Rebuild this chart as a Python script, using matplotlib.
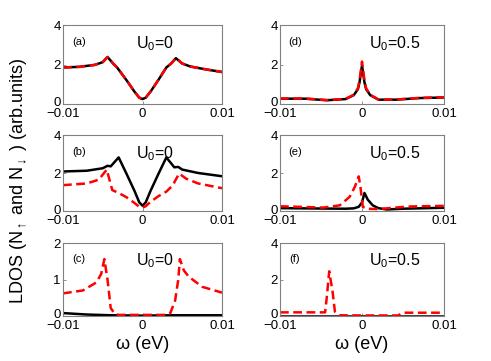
import matplotlib

matplotlib.use("Agg")
import matplotlib.pyplot as plt
from matplotlib.transforms import ScaledTranslation

plt.rcParams["font.family"] = ["Liberation Sans", "DejaVu Sans"]
plt.rcParams["mathtext.fontset"] = "custom"
plt.rcParams["mathtext.rm"] = "Liberation Sans"
plt.rcParams["mathtext.it"] = "Liberation Sans"
plt.rcParams["axes.unicode_minus"] = True

# panel (a): U0=0, spin up and spin down coincide
xa = [-0.01, -0.008, -0.006, -0.005, -0.0044, -0.0037, -0.0032, -0.002, -0.001,
      -0.0004, 0, 0.0004, 0.001, 0.002, 0.003, 0.0036, 0.0042, 0.005, 0.006, 0.008, 0.01]
ya_up = [1.85, 1.88, 1.98, 2.12, 2.38, 2.05, 1.85, 1.20, 0.62,
         0.32, 0.25, 0.32, 0.62, 1.22, 1.85, 2.05, 2.32, 2.05, 1.90, 1.75, 1.62]
ya_dn = ya_up

# panel (b)
xb_up = [-0.01, -0.007, -0.005, -0.0044, -0.004, -0.003, -0.002, -0.001, -0.0004, 0,
         0.0004, 0.001, 0.002, 0.003, 0.004, 0.0045, 0.005, 0.007, 0.01]
yb_up = [2.08, 2.12, 2.25, 2.38, 2.35, 2.82, 1.95, 1.05, 0.45, 0.28,
         0.45, 1.05, 1.95, 2.82, 2.30, 2.32, 2.18, 2.00, 1.83]
xb_dn = [-0.01, -0.007, -0.0055, -0.0045, -0.0038, -0.003, -0.002, -0.001, -0.0004, 0,
         0.0004, 0.001, 0.002, 0.003, 0.0038, 0.0046, 0.0055, 0.007, 0.01]
yb_dn = [1.36, 1.45, 1.65, 2.18, 1.10, 0.95, 0.72, 0.42, 0.22, 0.18,
         0.25, 0.48, 0.78, 1.02, 1.35, 1.97, 1.70, 1.45, 1.20]

# panel (c)
xc_up = [-0.01, -0.007, -0.004, 0, 0.004, 0.007, 0.01]
yc_up = [0.08, 0.04, 0.02, 0.01, 0.02, 0.02, 0.02]
xc_dn = [-0.01, -0.0075, -0.0058, -0.0052, -0.0048, -0.0044, -0.004, -0.0035, -0.003, 0,
         0.003, 0.0035, 0.0041, 0.0045, 0.0047, 0.0052, 0.0058, 0.0075, 0.01]
yc_dn = [0.62, 0.70, 0.92, 1.15, 1.56, 1.00, 0.22, 0.06, 0.03, 0.03,
         0.03, 0.08, 0.42, 1.00, 1.56, 1.25, 1.08, 0.80, 0.64]

# panel (d): U0=0.5
xd = [-0.01, -0.007, -0.0043, -0.002, -0.001, -0.0005, -0.0003, 0,
      0.0003, 0.0005, 0.001, 0.002, 0.0042, 0.007, 0.01]
yd_up = [0.27, 0.27, 0.19, 0.25, 0.45, 0.75, 1.10, 1.95,
         1.10, 0.75, 0.45, 0.22, 0.22, 0.30, 0.33]
yd_dn = [0.28, 0.28, 0.20, 0.26, 0.47, 0.80, 1.20, 2.15,
         1.20, 0.80, 0.47, 0.23, 0.23, 0.31, 0.34]

# panel (e)
xe_up = [-0.01, -0.005, -0.002, -0.001, -0.0004, 0, 0.0003, 0.0007, 0.0013,
         0.002, 0.003, 0.005, 0.01]
ye_up = [0.15, 0.13, 0.12, 0.14, 0.22, 0.45, 0.95, 0.60, 0.30,
         0.15, 0.08, 0.12, 0.17]
xe_dn = [-0.01, -0.0047, -0.0027, -0.0015, -0.0009, -0.0004, -0.0002, 0.0001,
         0.0006, 0.002, 0.004, 0.006, 0.01]
ye_dn = [0.25, 0.18, 0.30, 0.75, 1.25, 1.82, 1.30, 0.22,
         0.12, 0.10, 0.18, 0.24, 0.27]

# panel (f)
xf_up = [-0.01, 0, 0.01]
yf_up = [0.02, 0.02, 0.02]
xf_dn = [-0.01, -0.0045, -0.0043, -0.004, -0.0036, -0.0033, -0.0027, 0,
         0.0044, 0.005, 0.01]
yf_dn = [0.20, 0.20, 1.00, 2.45, 1.38, 0.23, 0.04, 0.03,
         0.03, 0.18, 0.18]

panels = [
    ("(a)", "U$_0$=0", xa, ya_up, xa, ya_dn, 4),
    ("(b)", "U$_0$=0", xb_up, yb_up, xb_dn, yb_dn, 4),
    ("(c)", "U$_0$=0", xc_up, yc_up, xc_dn, yc_dn, 2),
    ("(d)", "U$_0$=0.5", xd, yd_up, xd, yd_dn, 4),
    ("(e)", "U$_0$=0.5", xe_up, ye_up, xe_dn, ye_dn, 4),
    ("(f)", "U$_0$=0.5", xf_up, yf_up, xf_dn, yf_dn, 4),
]

W, H = 491, 361
col_px = [(63, 222), (280, 444)]
row_px = [(25, 104), (135, 211), (243, 316)]

fig = plt.figure(figsize=(W / 100, H / 100), dpi=100)
frame_color = "#808080"
nudge_up = ScaledTranslation(0, 2 / 100, fig.dpi_scale_trans)

for i, (tag, ulabel, x_up, y_up, x_dn, y_dn, ymax) in enumerate(panels):
    col, row = divmod(i, 3)
    x0, x1 = col_px[col]
    top, bot = row_px[row]
    ax = fig.add_axes([x0 / W, 1 - bot / H, (x1 - x0) / W, (bot - top) / H])

    ax.plot(x_up, y_up, color="black", lw=1.8)
    ax.plot(x_dn, y_dn, color="red", lw=1.8, dashes=(3.5, 1.8))

    ax.set_xlim(-0.01, 0.01)
    ax.set_ylim(0, ymax)
    ax.set_xticks([-0.01, 0, 0.01])
    ax.set_xticklabels(["\u22120.01", "0", "0.01"])
    ax.set_yticks([0, ymax / 2, ymax])
    ax.set_yticklabels(["0", f"{ymax // 2}", f"{ymax}"])
    ax.tick_params(direction="in", length=2.5, width=0.6, color=frame_color,
                   labelsize=9.5)
    ax.tick_params(axis="x", pad=3)
    ax.tick_params(axis="y", pad=1.5)
    zero_label = ax.get_yticklabels()[0]
    zero_label.set_transform(zero_label.get_transform() + nudge_up)
    for spine in ax.spines.values():
        spine.set_color(frame_color)
        spine.set_linewidth(0.8)

    tag_x = 0.10 if col == 0 else 0.09
    u_x = 0.58 if col == 0 else 0.70
    ax.text(tag_x, 0.78, tag, transform=ax.transAxes, fontsize=8,
            ha="center", va="center")
    ax.text(u_x, 0.76, ulabel, transform=ax.transAxes, fontsize=11.5,
            ha="center", va="center")

    if row == 2:
        ax.set_xlabel("\u03c9 (eV)", fontsize=13, labelpad=3)

fig.text(0.037, 0.5, "LDOS (N$_\\uparrow$ and N$_\\downarrow$ ) (arb.units)",
         rotation=90, fontsize=13, ha="center", va="center")

fig.savefig("out.png", dpi=100)
